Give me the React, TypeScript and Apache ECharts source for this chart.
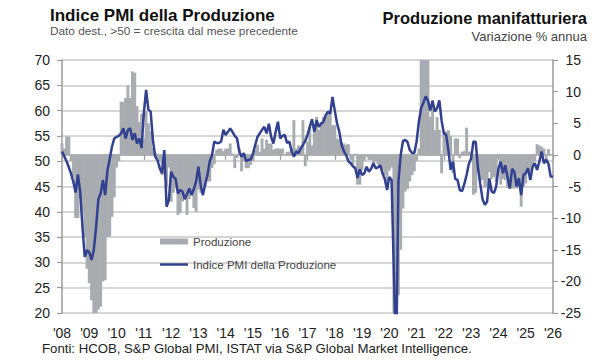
import React, { useEffect, useRef } from "react";
import * as echarts from "echarts";

const START_YEAR = 2008;
const END_YEAR = 2026;

const yearLabels = ["'08", "'09", "'10", "'11", "'12", "'13", "'14", "'15", "'16", "'17", "'18", "'19", "'20", "'21", "'22", "'23", "'24", "'25", "'26"];

const seriesNames = ["Produzione", "Indice PMI della Produzione"];

// HCOB PMI output index, monthly from Jan 2008 (left axis)
const pmiOutput = [
  51.9, 51.0, 50.0, 48.8, 47.5, 45.9, 43.8, 47.4, 44.0, 37.0, 31.1, 32.4,
  32.0, 30.5, 32.5, 37.0, 42.5, 43.6, 46.3, 43.3, 48.2, 50.5, 52.9, 54.5,
  54.8, 55.0, 55.5, 56.5, 54.5, 56.2, 56.5, 54.2, 55.5, 53.5, 54.5, 52.6,
  59.5, 64.1, 60.2, 59.8, 54.2, 50.9, 50.2, 48.6, 47.6, 52.2, 41.0, 42.3,
  47.9, 46.9, 46.5, 43.6, 44.3, 44.0, 42.5, 43.5, 44.6, 43.3, 44.5, 46.0,
  48.9, 45.3, 43.3, 45.5, 47.3, 50.0, 51.2, 53.9, 53.6, 53.6, 53.9, 56.2,
  55.2, 55.8, 56.5, 55.8, 55.0, 54.5, 51.9, 50.9, 51.6, 50.0, 50.3, 50.3,
  51.5, 53.2, 54.8, 55.5, 56.2, 56.8, 55.5, 57.4, 54.8, 53.5, 55.8, 57.8,
  54.5, 55.0, 55.2, 53.6, 53.9, 52.0, 50.9, 51.9, 51.6, 52.5, 53.2, 54.0,
  55.2, 56.8, 58.3, 55.8, 58.1, 56.8, 57.4, 57.8, 59.1, 59.8, 59.4, 62.7,
  60.0, 57.5, 55.8, 53.2, 52.0, 51.2, 50.0, 49.6, 49.0, 48.6, 46.7, 48.4,
  47.3, 47.6, 48.9, 47.9, 48.5, 49.6, 48.6, 48.8, 49.2, 47.6, 46.5, 44.3,
  46.9, 46.3, 28.0, 10.0, 46.0, 51.2, 54.0, 54.2, 53.8, 52.2, 51.6, 51.6,
  53.9, 57.8, 60.5, 61.6, 62.8, 62.0, 60.0, 62.0, 59.8, 60.5, 62.0, 58.0,
  55.5, 55.2, 52.1, 48.3, 49.9, 46.5, 46.3, 44.3, 44.1, 45.5, 47.3, 49.5,
  50.6, 53.9, 53.8, 48.6, 45.5, 42.5, 41.4, 42.0, 46.6, 44.0, 43.7, 45.0,
  48.6, 49.9, 47.6, 49.2, 46.9, 44.6, 48.5, 47.9, 45.0, 46.6, 43.3, 47.3,
  47.6, 48.6, 46.3, 48.9, 49.6, 48.3, 49.9, 51.9, 49.6, 50.3, 49.5, 46.9,
  47.0,
];

// ISTAT manufacturing production, % y/y, monthly from Jan 2008 (right axis)
const productionYoY = [
  1.8, 1.0, 2.9, 2.9, -1.0, -3.5, -10.0, -10.0, -7.0, -9.0, -13.0, -18.0,
  -20.3, -23.0, -26.0, -26.0, -24.5, -24.0, -20.0, -19.8, -13.0, -12.9, -9.8, -6.7,
  -2.0, -1.0, 8.4, 8.4, 9.0, 11.0, 9.0, 13.2, 13.0, 7.7, 5.2, 6.5,
  2.6, 6.9, 5.0, 3.7, 1.1, 0.3, -0.5, -1.0, -3.2, -3.0, -5.0, -2.0,
  -7.4, -6.0, -5.3, -9.5, -9.2, -7.4, -6.6, -9.5, -7.0, -6.3, -8.4, -9.0,
  -5.5, -6.0, -5.0, -5.0, -4.2, -4.2, -2.1, -1.5, 0.8, 1.0, 1.0, 0.6,
  1.0, 1.0, 1.8, 0.2, -2.1, -0.5, 1.0, -2.6, -1.0, -2.1, -2.1, -1.6,
  -1.0, 0.8, 1.6, 0.5, 2.6, 1.0, 2.4, 1.8, 1.8, 0.8, 1.0, 1.0,
  1.0, 1.0, 0.0, 0.5, 0.5, 1.0, 5.5, 1.0, 1.5, 1.0, 5.5, -1.8,
  2.1, 4.5, 1.5, 3.7, 6.0, 4.0, 5.2, 6.0, 6.0, 6.9, 6.9, 4.7,
  4.7, 2.6, 2.4, 2.0, 1.8, 1.6, 1.7, -0.8, -1.5, 0.2, -4.7, -4.7,
  -2.4, -1.0, -0.3, -0.8, -0.8, -1.5, -1.0, -1.5, -2.0, -2.4, -3.2, -4.8,
  -2.5, -2.0, -29.0, -43.0, -22.2, -15.0, -8.5, -5.8, -5.4, -4.2, -3.2, -2.6,
  -1.0, 1.0, 38.0, 79.0, 21.0, 15.5, 6.0, 8.2, 3.9, 6.0, 4.0, -2.9,
  3.7, 3.7, 3.9, 3.0, -2.9, 2.6, 2.6, -0.5, 0.5, 0.6, 4.3, 0.5,
  0.5, -6.3, -6.0, -1.6, -4.0, -4.0, -5.2, -5.0, -2.7, -3.8, -3.5, -4.2,
  -0.5, -4.7, -3.8, -4.0, -5.2, -5.3, -5.3, -5.3, -5.3, -5.3, -8.2, -5.0,
  -4.5, -2.6, -2.6, -1.6, -1.0, 1.7, 1.5, 1.3, 1.0, -1.3, 0.9,
];

const leftTitle = "Indice PMI della Produzione";
const leftSubtitle = "Dato dest., >50 = crescita dal mese precedente";
const rightTitle = "Produzione manifatturiera";
const rightSubtitle = "Variazione % annua";
const footer = "Fonti: HCOB, S&P Global PMI, ISTAT via S&P Global Market Intelligence.";

const monthly = (values: number[]) => values.map((v, i) => [START_YEAR + i / 12, v]);

const FONT = "'Liberation Sans', Arial, sans-serif";
const AXIS_COLOR = "#9b9b9b";
const BAR_COLOR = "#a8acb1";
const LINE_COLOR = "#31408f";

export default function App() {
  const ref = useRef<HTMLDivElement>(null);
  useEffect(() => {
    const chart = echarts.init(ref.current!, null, { renderer: "svg" });
    chart.setOption({
      animation: false,
      backgroundColor: "#ffffff",
      textStyle: { fontFamily: FONT },
      grid: { left: 62, right: 47, top: 60, bottom: 47 },
      legend: {
        orient: "vertical",
        left: 155,
        top: 230,
        itemWidth: 28,
        itemHeight: 6,
        itemGap: 10,
        selectedMode: false,
        textStyle: { fontSize: 11.5, color: "#444", lineHeight: 13, fontFamily: FONT },
        data: [
          { name: seriesNames[0], icon: "rect" },
          { name: seriesNames[1], icon: "path://M0 0H28V2.5H0Z" },
        ],
      },
      xAxis: {
        type: "value",
        min: START_YEAR,
        max: END_YEAR,
        interval: 1,
        axisLine: { show: true, lineStyle: { color: AXIS_COLOR, width: 1.5 } },
        axisTick: { show: true, length: 5, lineStyle: { color: AXIS_COLOR, width: 1.2 } },
        axisLabel: {
          fontSize: 14,
          color: "#222",
          margin: 13,
          formatter: (v: number) => yearLabels[Math.round(v - START_YEAR)] ?? "",
        },
        splitLine: { show: false },
      },
      yAxis: [
        {
          type: "value",
          position: "left",
          min: 20,
          max: 70,
          interval: 5,
          axisLine: { show: true, lineStyle: { color: AXIS_COLOR, width: 1.5 } },
          axisTick: { show: true, length: 5, lineStyle: { color: AXIS_COLOR, width: 1.2 } },
          axisLabel: { fontSize: 14, color: "#222", margin: 12 },
          splitLine: { show: true, lineStyle: { color: "#c8c8c8", width: 1.5 } },
        },
        {
          type: "value",
          position: "right",
          min: -25,
          max: 15,
          interval: 5,
          axisLine: { show: true, lineStyle: { color: AXIS_COLOR, width: 1.5 } },
          axisTick: { show: true, length: 5, lineStyle: { color: AXIS_COLOR, width: 1.2 } },
          axisLabel: { fontSize: 14, color: "#222", margin: 28, align: "right" },
          splitLine: { show: false },
        },
      ],
      series: [
        {
          name: seriesNames[0],
          type: "bar",
          yAxisIndex: 1,
          data: monthly(productionYoY),
          barWidth: 2.9,
          color: BAR_COLOR,
          itemStyle: { color: BAR_COLOR },
          clip: true,
          silent: true,
        },
        {
          name: seriesNames[1],
          type: "line",
          yAxisIndex: 0,
          data: monthly(pmiOutput),
          color: LINE_COLOR,
          symbol: "none",
          showSymbol: false,
          lineStyle: { color: LINE_COLOR, width: 2.5 },
          clip: true,
          silent: true,
          z: 5,
        },
      ],
      graphic: [
        {
          type: "text", x: 50, y: 15.5,
          style: { text: leftTitle, fontSize: 17, fontWeight: "bold", fontFamily: FONT, fill: "#111", align: "left", verticalAlign: "middle" },
        },
        {
          type: "text", x: 50, y: 31,
          style: { text: leftSubtitle, fontSize: 11.8, fontFamily: FONT, fill: "#555", align: "left", verticalAlign: "middle" },
        },
        {
          type: "text", x: 587, y: 18.2,
          style: { text: rightTitle, fontSize: 16.5, fontWeight: "bold", fontFamily: FONT, fill: "#111", align: "right", verticalAlign: "middle" },
        },
        {
          type: "text", x: 587, y: 36,
          style: { text: rightSubtitle, fontSize: 13, fontFamily: FONT, fill: "#444", align: "right", verticalAlign: "middle" },
        },
        {
          type: "text", x: 42, y: 348,
          style: { text: footer, fontSize: 13.2, fontFamily: FONT, fill: "#222", align: "left", verticalAlign: "middle" },
        },
      ],
    });
    return () => chart.dispose();
  }, []);
  return (
    <div
      ref={ref}
      style={{ position: "fixed", left: 0, top: 0, width: 600, height: 360, background: "#fff" }}
    />
  );
}
